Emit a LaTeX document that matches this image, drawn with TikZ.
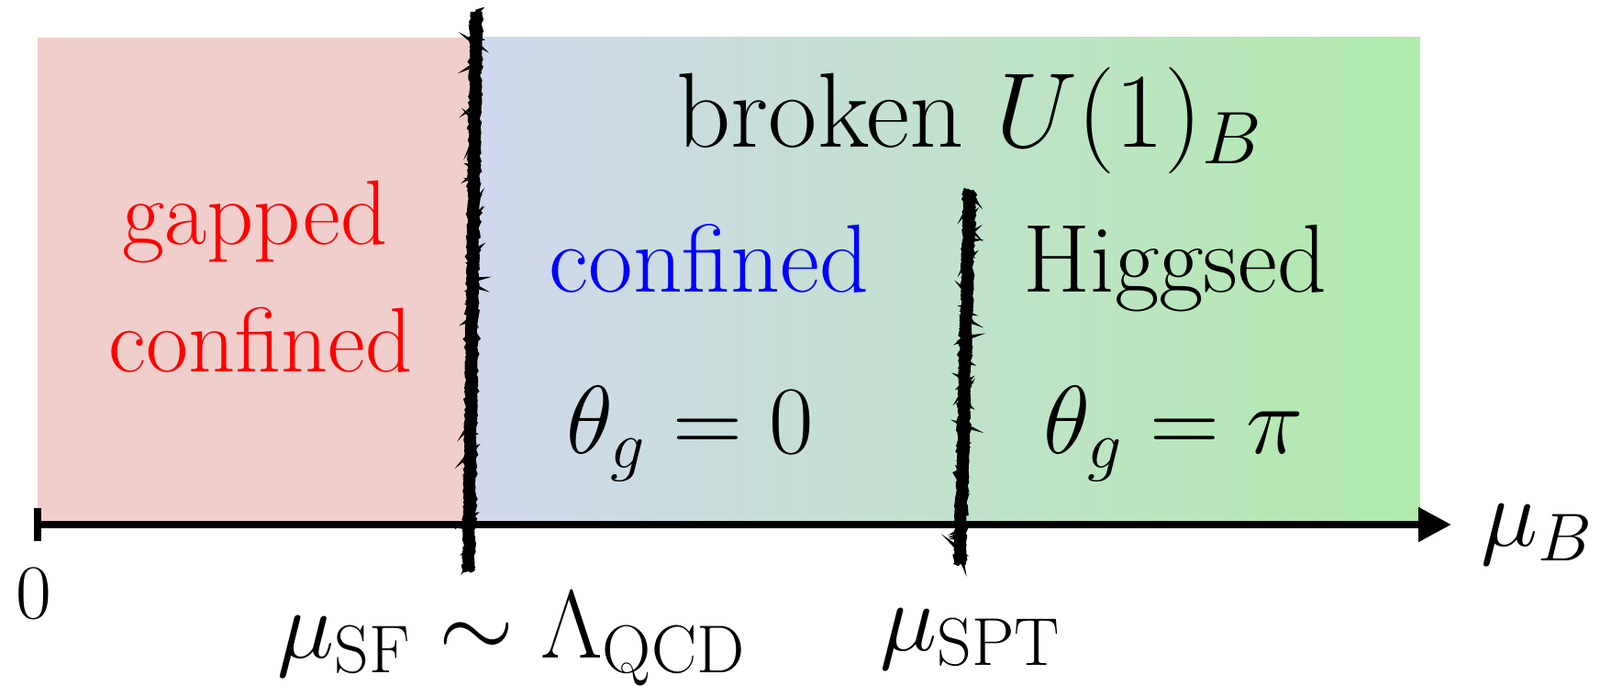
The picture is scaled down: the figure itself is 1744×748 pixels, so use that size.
\RequirePackage{fix-cm}
\documentclass[tikz,border=0pt]{standalone}
\usepackage{amsmath}
\usepackage{xcolor}
\usetikzlibrary{arrows.meta, decorations.pathmorphing}
\definecolor{gapcol}{HTML}{F0CECB}
\definecolor{sfleft}{HTML}{D1D8EE}
\definecolor{sfright}{HTML}{B1EBAB}

\begin{document}
\begin{tikzpicture}[
  x=0.1mm, y=-0.1mm,
  font=\fontsize{30}{36}\selectfont,
  phase/.style={inner sep=0pt, anchor=base},
  gapph/.style={phase, text=red, font=\fontsize{28.5}{34}\selectfont},
  axis/.style={line width=0.8mm, {Bar[width=3.6mm]}-{Triangle[length=3.6mm, width=3.6mm]}},
  wall/.style={line width=1.3mm, decorate,
               decoration={random steps, segment length=0.8pt, amplitude=0.35pt}},
  wallfuzz/.style={line width=0.5mm, decorate,
               decoration={random steps, segment length=0.5pt, amplitude=0.8pt}}
]
\useasboundingbox (0,0) rectangle (1744,748);
% phase regions
\fill[gapcol] (41,41) rectangle (514,572);
\shade[left color=sfleft, right color=sfright] (514,41) rectangle (1548,572);

\coordinate (ax0) at (37,572);
\coordinate (ax1) at (1582,572);
\draw[axis] (ax0) -- (ax1);

% transitions
\coordinate (sf0) at (519,13);
\coordinate (sf1) at (511,623);
\coordinate (spt0) at (1057,207);
\coordinate (spt1) at (1046,615);
\draw[wall] (sf0) -- (sf1);
\draw[wallfuzz] (sf0) -- (sf1);
\draw[wall] (spt0) -- (spt1);
\draw[wallfuzz] (spt0) -- (spt1);

\node[phase, font=\fontsize{33}{40}\selectfont] (broken) at (1057,161) {broken $U(1)_B$};
\node[gapph] (gapped) at (278,267) {gapped};
\node[gapph] (gconf) at (284,406) {confined};
\node[phase, text=blue] (conf) at (773,319) {confined};
\node[phase] (higgs) at (1281,319) {Higgsed};
\node[phase] (th0) at (752,495) {$\theta_g = 0$};
\node[phase] (thpi) at (1279,495) {$\theta_g = \pi$};

\node[phase, anchor=base west] (muB) at (1614,596) {$\mu_B$};
\node[phase, font=\fontsize{24}{28}\selectfont] (zero) at (37,675) {$0$};
\node[phase] (muSF) at (558,718) {$\mu_{\text{SF}} \sim \Lambda_{\text{QCD}}$};
\node[phase] (muSPT) at (1058,710) {$\mu_{\text{SPT}}$};
\end{tikzpicture}
\end{document}
